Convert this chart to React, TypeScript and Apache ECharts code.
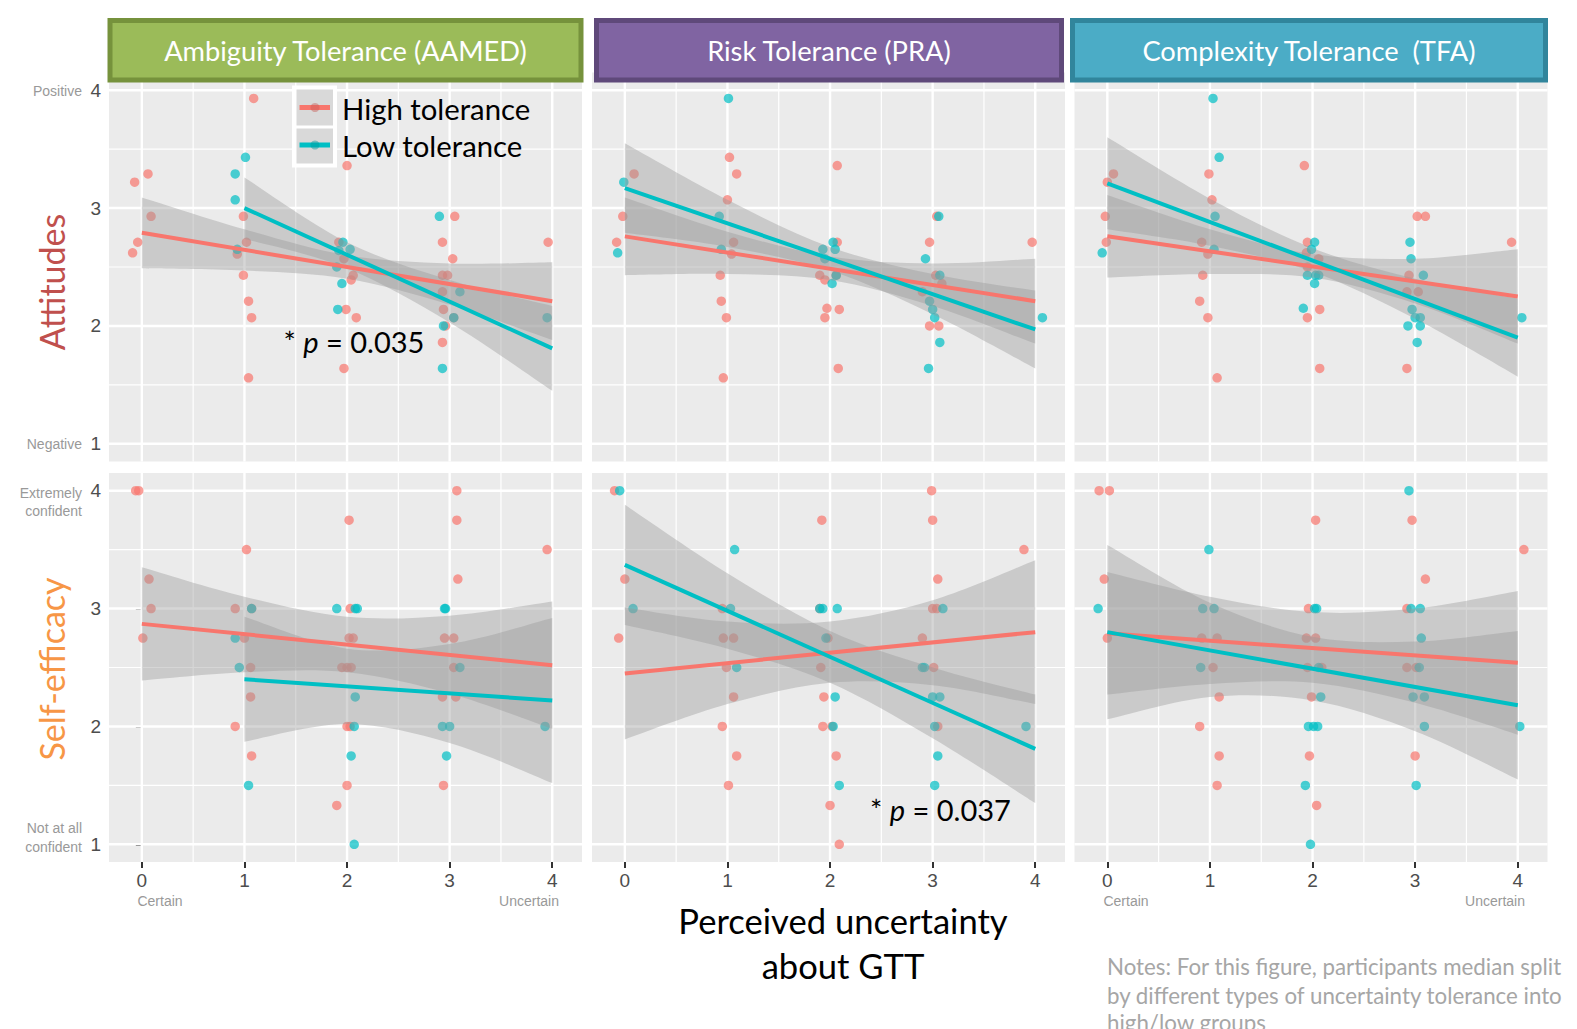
import React, { useEffect, useRef } from 'react';
import * as echarts from 'echarts';

// ---------- data ----------
const X_TICKS = [0, 1, 2, 3, 4];
const X_MINOR = [0.5, 1.5, 2.5, 3.5];
const Y_TICKS = [1, 2, 3, 4];
const Y_MINOR = [1.5, 2.5, 3.5];
const X_RANGE = [-0.32, 4.29];
const Y_RANGE = [0.85, 4.15];

const FACETS = ['Ambiguity Tolerance (AAMED)', 'Risk Tolerance (PRA)', 'Complexity Tolerance  (TFA)'];
const ROWS = ['Attitudes', 'Self-efficacy'];
const GROUPS = ['High tolerance', 'Low tolerance'];
const BAND_X5 = [0, 1, 2, 3, 4];
const BAND_X4 = [1, 2, 3, 4];

// Attitudes x AAMED
const att_aamed_hi = [[1.09, 3.93], [-0.07, 3.22], [0.06, 3.29], [0.09, 2.93], [-0.04, 2.71], [-0.09, 2.62], [0.99, 2.93], [1.02, 2.71], [0.93, 2.61], [0.99, 2.43], [1.04, 2.21], [1.07, 2.07], [1.04, 1.56], [2.0, 3.36], [1.92, 2.71], [1.97, 2.57], [2.06, 2.43], [2.04, 2.39], [1.99, 2.14], [2.09, 2.07], [1.97, 1.64], [3.05, 2.93], [2.93, 2.71], [3.03, 2.57], [2.93, 2.43], [2.98, 2.43], [2.93, 2.29], [2.94, 2.14], [3.04, 2.07], [2.96, 2.0], [2.93, 1.86], [3.96, 2.71]];
const att_aamed_lo = [[1.01, 3.43], [0.91, 3.29], [0.91, 3.07], [0.93, 2.65], [1.96, 2.71], [2.03, 2.65], [1.92, 2.64], [1.9, 2.5], [1.95, 2.36], [1.91, 2.14], [2.9, 2.93], [3.1, 2.29], [2.94, 2.0], [2.93, 1.64], [3.95, 2.07], [3.04, 2.07]];
const att_aamed_hi_fit = [[0, 2.79], [4, 2.21]];
const att_aamed_lo_fit = [[1, 3.0], [4, 1.81]];
const att_aamed_hi_up = [3.09, 2.82, 2.6, 2.53, 2.54];
const att_aamed_hi_dn = [2.49, 2.47, 2.4, 2.18, 1.88];
const att_aamed_lo_up = [3.26, 2.71, 2.39, 2.17];
const att_aamed_lo_dn = [2.74, 2.49, 2.03, 1.45];

// Attitudes x PRA
const att_pra_hi = [[0.09, 3.29], [-0.02, 2.93], [-0.08, 2.71], [1.02, 3.43], [1.09, 3.29], [1.0, 3.07], [1.06, 2.71], [1.04, 2.61], [0.93, 2.43], [0.94, 2.21], [0.99, 2.07], [0.96, 1.56], [2.07, 3.36], [2.07, 2.71], [1.9, 2.43], [1.95, 2.39], [2.06, 2.43], [1.97, 2.15], [2.09, 2.14], [1.95, 2.07], [2.08, 1.64], [3.04, 2.93], [2.97, 2.71], [3.03, 2.43], [3.09, 2.36], [2.9, 2.29], [2.97, 2.0], [3.06, 2.0], [3.97, 2.71]];
const att_pra_lo = [[1.01, 3.93], [-0.01, 3.22], [-0.07, 2.62], [0.92, 2.93], [0.94, 2.65], [2.03, 2.71], [1.93, 2.65], [2.05, 2.65], [1.95, 2.57], [2.06, 2.43], [2.02, 2.36], [3.06, 2.93], [2.93, 2.57], [3.07, 2.43], [2.97, 2.21], [3.0, 2.14], [3.02, 2.07], [3.07, 1.86], [2.96, 1.64], [4.07, 2.07]];
const att_pra_hi_fit = [[0, 2.76], [4, 2.21]];
const att_pra_lo_fit = [[0, 3.17], [4, 1.97]];
const att_pra_hi_up = [3.09, 2.8, 2.59, 2.53, 2.57];
const att_pra_hi_dn = [2.43, 2.44, 2.39, 2.17, 1.85];
const att_pra_lo_up = [3.55, 3.07, 2.67, 2.44, 2.3];
const att_pra_lo_dn = [2.79, 2.67, 2.47, 2.1, 1.64];

// Attitudes x TFA
const att_tfa_hi = [[0.06, 3.29], [0.0, 3.22], [-0.02, 2.93], [-0.01, 2.71], [0.99, 3.29], [1.02, 3.07], [0.92, 2.71], [0.98, 2.61], [0.93, 2.43], [0.9, 2.21], [0.98, 2.07], [1.07, 1.56], [1.92, 3.36], [1.95, 2.71], [1.94, 2.62], [2.06, 2.57], [1.95, 2.5], [2.07, 2.14], [1.95, 2.07], [2.07, 1.64], [3.02, 2.93], [3.1, 2.93], [2.94, 2.43], [2.92, 2.29], [3.03, 2.29], [2.92, 1.64], [3.94, 2.71]];
const att_tfa_lo = [[1.03, 3.93], [1.09, 3.43], [1.05, 2.93], [1.04, 2.65], [-0.05, 2.62], [2.02, 2.71], [1.99, 2.65], [1.95, 2.43], [2.03, 2.43], [2.06, 2.43], [2.02, 2.36], [1.91, 2.15], [2.95, 2.71], [2.96, 2.57], [3.08, 2.43], [2.97, 2.14], [3.0, 2.07], [3.05, 2.07], [2.93, 2.0], [3.05, 2.0], [3.02, 1.86], [4.04, 2.07]];
const att_tfa_hi_fit = [[0, 2.76], [4, 2.25]];
const att_tfa_lo_fit = [[0, 3.21], [4, 1.9]];
const att_tfa_hi_up = [3.11, 2.82, 2.61, 2.57, 2.65];
const att_tfa_hi_dn = [2.41, 2.44, 2.41, 2.19, 1.85];
const att_tfa_lo_up = [3.6, 3.08, 2.66, 2.4, 2.23];
const att_tfa_lo_dn = [2.82, 2.68, 2.46, 2.06, 1.57];

// Self-efficacy x AAMED
const se_aamed_hi = [[-0.06, 4.0], [-0.03, 4.0], [0.07, 3.25], [0.09, 3.0], [0.01, 2.75], [1.02, 3.5], [0.91, 3.0], [1.07, 3.0], [1.0, 2.75], [1.06, 2.5], [1.06, 2.25], [0.91, 2.0], [1.07, 1.75], [2.02, 3.75], [2.03, 3.0], [2.02, 2.75], [2.06, 2.75], [1.95, 2.5], [2.0, 2.5], [2.04, 2.5], [2.0, 2.0], [2.03, 2.0], [2.0, 1.5], [1.9, 1.33], [3.07, 4.0], [3.07, 3.75], [3.08, 3.25], [2.95, 2.75], [3.04, 2.75], [3.04, 2.5], [2.93, 2.25], [3.06, 2.25], [2.94, 1.5], [3.95, 3.5]];
const se_aamed_lo = [[1.07, 3.0], [0.91, 2.75], [0.95, 2.5], [1.04, 1.5], [1.9, 3.0], [2.08, 3.0], [2.1, 3.0], [2.08, 2.25], [2.07, 2.0], [2.04, 1.75], [2.07, 1.0], [2.95, 3.0], [2.96, 3.0], [3.1, 2.5], [2.93, 2.0], [3.0, 2.0], [2.97, 1.75], [3.93, 2.0]];
const se_aamed_hi_fit = [[0, 2.87], [4, 2.52]];
const se_aamed_lo_fit = [[1, 2.4], [4, 2.22]];
const se_aamed_hi_up = [3.35, 3.1, 2.93, 2.94, 3.06];
const se_aamed_hi_dn = [2.39, 2.46, 2.46, 2.28, 1.98];
const se_aamed_lo_up = [2.93, 2.66, 2.7, 2.92];
const se_aamed_lo_dn = [1.87, 2.02, 1.86, 1.52];

// Self-efficacy x PRA
const se_pra_hi = [[-0.1, 4.0], [0.0, 3.25], [-0.06, 2.75], [0.95, 3.0], [0.96, 2.75], [1.06, 2.75], [0.99, 2.5], [1.06, 2.25], [0.95, 2.0], [1.09, 1.75], [1.01, 1.5], [1.92, 3.75], [1.9, 3.0], [1.98, 2.75], [1.91, 2.5], [1.94, 2.25], [1.93, 2.0], [2.02, 2.0], [2.06, 1.75], [2.0, 1.33], [2.09, 1.0], [2.99, 4.0], [3.0, 3.75], [3.05, 3.25], [3.0, 3.0], [3.04, 3.0], [2.9, 2.75], [3.01, 2.5], [3.05, 2.0], [3.89, 3.5]];
const se_pra_lo = [[-0.05, 4.0], [0.08, 3.0], [1.03, 3.0], [1.07, 3.5], [1.09, 2.5], [1.9, 3.0], [1.93, 3.0], [2.07, 3.0], [1.96, 2.75], [2.05, 2.25], [2.03, 2.0], [2.09, 1.5], [3.1, 3.0], [2.9, 2.5], [2.92, 2.5], [3.0, 2.25], [3.07, 2.25], [3.02, 2.0], [3.05, 1.75], [3.02, 1.5], [3.91, 2.0]];
const se_pra_hi_fit = [[0, 2.45], [4, 2.8]];
const se_pra_lo_fit = [[0, 3.37], [4, 1.81]];
const se_pra_hi_up = [3.01, 2.89, 2.89, 3.07, 3.41];
const se_pra_hi_dn = [1.89, 2.19, 2.37, 2.35, 2.19];
const se_pra_lo_up = [3.88, 3.3, 2.81, 2.5, 2.27];
const se_pra_lo_dn = [2.86, 2.66, 2.37, 1.9, 1.35];

// Self-efficacy x TFA
const se_tfa_hi = [[-0.08, 4.0], [0.02, 4.0], [-0.03, 3.25], [0.0, 2.75], [0.92, 2.75], [1.07, 2.75], [1.03, 2.5], [1.09, 2.25], [0.9, 2.0], [1.09, 1.75], [1.07, 1.5], [2.03, 3.75], [1.96, 3.0], [1.94, 2.75], [2.03, 2.75], [1.95, 2.5], [2.09, 2.5], [1.99, 2.25], [1.97, 1.75], [2.04, 1.33], [2.97, 3.75], [3.1, 3.25], [2.92, 3.0], [2.92, 2.5], [3.01, 2.5], [3.0, 1.75], [4.06, 3.5]];
const se_tfa_lo = [[2.94, 4.0], [0.99, 3.5], [-0.09, 3.0], [0.93, 3.0], [1.04, 3.0], [0.91, 2.5], [2.02, 3.0], [2.04, 3.0], [2.06, 2.5], [2.08, 2.25], [1.96, 2.0], [2.01, 2.0], [2.05, 2.0], [1.93, 1.5], [1.98, 1.0], [2.96, 3.0], [3.05, 3.0], [3.06, 2.75], [3.04, 2.5], [2.98, 2.25], [3.09, 2.25], [3.09, 2.0], [3.01, 1.5], [4.02, 2.0]];
const se_tfa_hi_fit = [[0, 2.79], [4, 2.54]];
const se_tfa_lo_fit = [[0, 2.8], [4, 2.18]];
const se_tfa_hi_up = [3.31, 3.1, 2.97, 3.0, 3.15];
const se_tfa_hi_dn = [2.27, 2.36, 2.37, 2.2, 1.93];
const se_tfa_lo_up = [3.54, 3.05, 2.76, 2.72, 2.81];
const se_tfa_lo_dn = [2.06, 2.25, 2.22, 1.96, 1.55];

const PANELS = [
  { hi: att_aamed_hi, lo: att_aamed_lo, hiFit: att_aamed_hi_fit, loFit: att_aamed_lo_fit, hiX: BAND_X5, hiUp: att_aamed_hi_up, hiDn: att_aamed_hi_dn, loX: BAND_X4, loUp: att_aamed_lo_up, loDn: att_aamed_lo_dn },
  { hi: att_pra_hi, lo: att_pra_lo, hiFit: att_pra_hi_fit, loFit: att_pra_lo_fit, hiX: BAND_X5, hiUp: att_pra_hi_up, hiDn: att_pra_hi_dn, loX: BAND_X5, loUp: att_pra_lo_up, loDn: att_pra_lo_dn },
  { hi: att_tfa_hi, lo: att_tfa_lo, hiFit: att_tfa_hi_fit, loFit: att_tfa_lo_fit, hiX: BAND_X5, hiUp: att_tfa_hi_up, hiDn: att_tfa_hi_dn, loX: BAND_X5, loUp: att_tfa_lo_up, loDn: att_tfa_lo_dn },
  { hi: se_aamed_hi, lo: se_aamed_lo, hiFit: se_aamed_hi_fit, loFit: se_aamed_lo_fit, hiX: BAND_X5, hiUp: se_aamed_hi_up, hiDn: se_aamed_hi_dn, loX: BAND_X4, loUp: se_aamed_lo_up, loDn: se_aamed_lo_dn },
  { hi: se_pra_hi, lo: se_pra_lo, hiFit: se_pra_hi_fit, loFit: se_pra_lo_fit, hiX: BAND_X5, hiUp: se_pra_hi_up, hiDn: se_pra_hi_dn, loX: BAND_X5, loUp: se_pra_lo_up, loDn: se_pra_lo_dn },
  { hi: se_tfa_hi, lo: se_tfa_lo, hiFit: se_tfa_hi_fit, loFit: se_tfa_lo_fit, hiX: BAND_X5, hiUp: se_tfa_hi_up, hiDn: se_tfa_hi_dn, loX: BAND_X5, loUp: se_tfa_lo_up, loDn: se_tfa_lo_dn },
];

// ---------- style / layout ----------
const RED = '#F8766D';
const TEAL = '#00BFC4';
const BAND = 'rgba(153,153,153,0.4)';
const CAL = "Lato, 'Open Sans', sans-serif";
const GG = "'Liberation Sans', Arial, sans-serif";
const COL_LEFT = [109, 592, 1074.5];
const ROW_TOP = [72.5, 473];
const PW = 473;
const PH = 389;
const HEAD = [
  { x: 107.5, w: 476, fill: '#9BBB59', stroke: '#76923C' },
  { x: 594, w: 470, fill: '#8064A2', stroke: '#5F497A' },
  { x: 1070, w: 478, fill: '#4BACC6', stroke: '#31859C' },
];

function catmull(pts: number[][]): string {
  let d = '';
  for (let i = 0; i < pts.length - 1; i++) {
    const p0 = pts[Math.max(0, i - 1)];
    const p1 = pts[i];
    const p2 = pts[i + 1];
    const p3 = pts[Math.min(pts.length - 1, i + 2)];
    const c1 = [p1[0] + (p2[0] - p0[0]) / 6, p1[1] + (p2[1] - p0[1]) / 6];
    const c2 = [p2[0] - (p3[0] - p1[0]) / 6, p2[1] - (p3[1] - p1[1]) / 6];
    d += ` C${c1[0]},${c1[1]} ${c2[0]},${c2[1]} ${p2[0]},${p2[1]}`;
  }
  return d;
}

function bandSeries(idx: number, xs: number[], up: number[], dn: number[]) {
  return {
    type: 'custom',
    xAxisIndex: idx,
    yAxisIndex: idx,
    z: 3,
    silent: true,
    data: [[xs[0], up[0]]],
    renderItem: (_p: any, api: any) => {
      const pu = xs.map((x, k) => api.coord([x, up[k]]));
      const pl = xs.map((x, k) => api.coord([x, dn[k]])).reverse();
      const d = `M${pu[0][0]},${pu[0][1]}` + catmull(pu) + ` L${pl[0][0]},${pl[0][1]}` + catmull(pl) + ' Z';
      return { type: 'path', shape: { pathData: d }, style: { fill: BAND } };
    },
  };
}

function gridSeries(idx: number) {
  return {
    type: 'custom',
    xAxisIndex: idx,
    yAxisIndex: idx,
    z: 1,
    silent: true,
    data: [[0, 1]],
    renderItem: (_p: any, api: any) => {
      const children: any[] = [];
      const vline = (v: number, w: number) => {
        const a = api.coord([v, Y_RANGE[0]]);
        const b = api.coord([v, Y_RANGE[1]]);
        children.push({ type: 'line', shape: { x1: a[0], y1: a[1], x2: b[0], y2: b[1] }, style: { stroke: '#FFFFFF', lineWidth: w } });
      };
      const hline = (v: number, w: number) => {
        const a = api.coord([X_RANGE[0], v]);
        const b = api.coord([X_RANGE[1], v]);
        children.push({ type: 'line', shape: { x1: a[0], y1: a[1], x2: b[0], y2: b[1] }, style: { stroke: '#FFFFFF', lineWidth: w } });
      };
      X_MINOR.forEach((v) => vline(v, 1.2));
      Y_MINOR.forEach((v) => hline(v, 1.2));
      X_TICKS.forEach((v) => vline(v, 2.4));
      Y_TICKS.forEach((v) => hline(v, 2.4));
      return { type: 'group', children };
    },
  };
}

function buildOption() {
  const grid: any[] = [];
  const xAxis: any[] = [];
  const yAxis: any[] = [];
  const series: any[] = [];
  PANELS.forEach((p, i) => {
    const r = Math.floor(i / 3);
    const c = i % 3;
    grid.push({ left: COL_LEFT[c], top: ROW_TOP[r], width: PW, height: PH, show: true, backgroundColor: '#EBEBEB', borderWidth: 0, containLabel: false });
    xAxis.push({
      gridIndex: i, type: 'value', min: X_RANGE[0], max: X_RANGE[1],
      splitLine: { show: false }, axisLine: { show: false },
      axisTick: { show: r === 1, length: 6, lineStyle: { color: '#333333', width: 2 }, customValues: X_TICKS },
      axisLabel: { show: r === 1, customValues: X_TICKS, color: '#4D4D4D', fontSize: 19, fontFamily: GG, margin: 9 },
    });
    yAxis.push({
      gridIndex: i, type: 'value', min: Y_RANGE[0], max: Y_RANGE[1],
      splitLine: { show: false }, axisLine: { show: false },
      axisTick: { show: c === 0, length: 6, lineStyle: { color: '#333333', width: 2 }, customValues: Y_TICKS },
      axisLabel: { show: c === 0, customValues: Y_TICKS, color: '#4D4D4D', fontSize: 19, fontFamily: GG, margin: 8 },
    });
    series.push(gridSeries(i));
    series.push({ type: 'scatter', name: GROUPS[0], xAxisIndex: i, yAxisIndex: i, data: p.hi, symbolSize: 9.5, itemStyle: { color: RED, opacity: 0.7 }, z: 2, silent: true });
    series.push({ type: 'scatter', name: GROUPS[1], xAxisIndex: i, yAxisIndex: i, data: p.lo, symbolSize: 9.5, itemStyle: { color: TEAL, opacity: 0.7 }, z: 2, silent: true });
    series.push(bandSeries(i, p.hiX, p.hiUp, p.hiDn));
    series.push(bandSeries(i, p.loX, p.loUp, p.loDn));
    series.push({ type: 'line', xAxisIndex: i, yAxisIndex: i, data: p.hiFit, symbol: 'none', lineStyle: { color: RED, width: 4 }, z: 4, silent: true });
    series.push({ type: 'line', xAxisIndex: i, yAxisIndex: i, data: p.loFit, symbol: 'none', lineStyle: { color: TEAL, width: 4 }, z: 4, silent: true });
  });

  const graphic: any[] = [];
  HEAD.forEach((h, c) => {
    graphic.push({ type: 'rect', z: 100, shape: { x: h.x + 2.5, y: 20.5, width: h.w - 5, height: 59.5 }, style: { fill: h.fill, stroke: h.stroke, lineWidth: 5 } });
    graphic.push({ type: 'text', z: 101, x: h.x + h.w / 2, y: 50.5, style: { text: FACETS[c], fontSize: 27.3, fontFamily: CAL, fill: '#FFFFFF', align: 'center', verticalAlign: 'middle' } });
  });
  // row titles
  graphic.push({ type: 'text', z: 100, x: 51, y: 282, rotation: Math.PI / 2, style: { text: ROWS[0], fontSize: 34, fontFamily: CAL, fill: '#C0504D', align: 'center', verticalAlign: 'middle' } });
  graphic.push({ type: 'text', z: 100, x: 51, y: 669, rotation: Math.PI / 2, style: { text: ROWS[1], fontSize: 34, fontFamily: CAL, fill: '#F79646', align: 'center', verticalAlign: 'middle' } });
  // y descriptors
  const desc = (text: string, x: number, y: number) => graphic.push({ type: 'text', z: 100, x, y, style: { text, fontSize: 14, fontFamily: GG, fill: '#999999', align: 'right', verticalAlign: 'middle' } });
  desc('Positive', 82, 91);
  desc('Negative', 82, 443.5);
  desc('Extremely', 82, 492.5);
  desc('confident', 82, 510.5);
  desc('Not at all', 82, 828);
  desc('confident', 82, 846.5);
  // x descriptors
  const xdesc = (text: string, x: number) => graphic.push({ type: 'text', z: 100, x, y: 901, style: { text, fontSize: 14, fontFamily: GG, fill: '#999999', align: 'center', verticalAlign: 'middle' } });
  xdesc('Certain', 160);
  xdesc('Uncertain', 529);
  xdesc('Certain', 1126);
  xdesc('Uncertain', 1495);
  // legend
  graphic.push({ type: 'rect', z: 100, shape: { x: 292, y: 85.5, width: 45, height: 82 }, style: { fill: '#FFFFFF' } });
  graphic.push({ type: 'rect', z: 101, shape: { x: 296.5, y: 89.5, width: 36.5, height: 36 }, style: { fill: '#D9D9D9' } });
  graphic.push({ type: 'rect', z: 101, shape: { x: 296.5, y: 128.5, width: 36.5, height: 35 }, style: { fill: '#D9D9D9' } });
  graphic.push({ type: 'line', z: 102, shape: { x1: 299.5, y1: 107.5, x2: 330, y2: 107.5 }, style: { stroke: RED, lineWidth: 5 } });
  graphic.push({ type: 'line', z: 102, shape: { x1: 299.5, y1: 145, x2: 330, y2: 145 }, style: { stroke: TEAL, lineWidth: 5 } });
  graphic.push({ type: 'circle', z: 103, shape: { cx: 315, cy: 107.5, r: 4.5 }, style: { fill: 'rgba(200,90,85,0.45)' } });
  graphic.push({ type: 'circle', z: 103, shape: { cx: 315, cy: 145, r: 4.5 }, style: { fill: 'rgba(0,150,155,0.45)' } });
  graphic.push({ type: 'text', z: 102, x: 342, y: 108, style: { text: GROUPS[0], fontSize: 29.3, fontFamily: CAL, fill: '#000000', align: 'left', verticalAlign: 'middle' } });
  graphic.push({ type: 'text', z: 102, x: 342, y: 145, style: { text: GROUPS[1], fontSize: 29.3, fontFamily: CAL, fill: '#000000', align: 'left', verticalAlign: 'middle' } });
  // p annotations
  const pnote = (val: string, x: number, y: number) => graphic.push({
    type: 'text', z: 100, x, y,
    style: { text: '* {i|p} = ' + val, fontSize: 29, fontFamily: CAL, fill: '#000000', align: 'left', verticalAlign: 'middle', rich: { i: { fontStyle: 'italic', fontSize: 29, fontFamily: CAL, fill: '#000000' } } },
  });
  pnote('0.035', 283.5, 341);
  pnote('0.037', 870, 809.5);
  // x title
  graphic.push({ type: 'text', z: 100, x: 843, y: 920, style: { text: 'Perceived uncertainty', fontSize: 34.6, fontFamily: CAL, fill: '#000000', align: 'center', verticalAlign: 'middle' } });
  graphic.push({ type: 'text', z: 100, x: 843, y: 965.5, style: { text: 'about GTT', fontSize: 34.6, fontFamily: CAL, fill: '#000000', align: 'center', verticalAlign: 'middle' } });
  // notes
  const note = (t: string, y: number) => graphic.push({ type: 'text', z: 100, x: 1107, y, style: { text: t, fontSize: 22.3, fontFamily: CAL, fill: '#A6A6A6', align: 'left', verticalAlign: 'middle' } });
  note('Notes: For this figure, participants median split', 966.5);
  note('by different types of uncertainty tolerance into', 995.5);
  note('high/low groups', 1022);

  return { animation: false, backgroundColor: '#FFFFFF', grid, xAxis, yAxis, series, graphic };
}

export default function App() {
  const ref = useRef<HTMLDivElement>(null);
  useEffect(() => {
    if (!ref.current) return;
    const chart = echarts.init(ref.current, null, { renderer: 'svg' });
    chart.setOption(buildOption() as any);
    return () => chart.dispose();
  }, []);
  return <div ref={ref} style={{ position: 'absolute', left: 0, top: 0, width: 1577, height: 1029 }} />;
}
